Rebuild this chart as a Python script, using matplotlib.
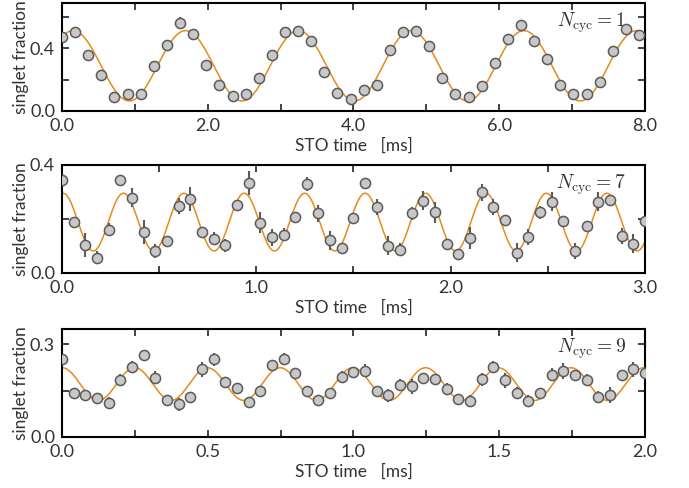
import numpy as np
import matplotlib.pyplot as plt

plt.rcParams['font.family'] = ['Lato', 'DejaVu Sans']
plt.rcParams['mathtext.fontset'] = 'cm'
plt.rcParams['font.size'] = 12.5
plt.rcParams['text.color'] = '#333333'
plt.rcParams['axes.labelcolor'] = '#333333'
plt.rcParams['xtick.color'] = '#333333'
plt.rcParams['ytick.color'] = '#333333'

# N_cyc = 1
t1 = np.arange(45) * 0.18
s1 = [0.47, 0.503, 0.357, 0.229, 0.086, 0.105, 0.105, 0.289, 0.421, 0.56,
      0.492, 0.293, 0.163, 0.096, 0.109, 0.208, 0.359, 0.506, 0.513, 0.449,
      0.25, 0.111, 0.075, 0.13, 0.165, 0.391, 0.502, 0.511, 0.417, 0.21,
      0.107, 0.088, 0.158, 0.308, 0.46, 0.547, 0.449, 0.331, 0.167, 0.109,
      0.109, 0.184, 0.383, 0.526, 0.487]
e1 = [0.02, 0.035, 0.02, 0.02, 0.02, 0.02, 0.02, 0.02, 0.02, 0.04,
      0.025, 0.02, 0.02, 0.02, 0.02, 0.02, 0.02, 0.02, 0.025, 0.02,
      0.02, 0.02, 0.02, 0.02, 0.025, 0.02, 0.02, 0.02, 0.02, 0.02,
      0.02, 0.02, 0.02, 0.02, 0.025, 0.02, 0.02, 0.02, 0.02, 0.02,
      0.02, 0.02, 0.02, 0.02, 0.025]

# N_cyc = 7
t7 = np.arange(51) * 0.06
s7 = [0.343, 0.19, 0.102, 0.056, 0.16, 0.343, 0.279, 0.152, 0.08, 0.118,
      0.247, 0.275, 0.151, 0.127, 0.102, 0.252, 0.332, 0.186, 0.131, 0.142,
      0.208, 0.33, 0.22, 0.121, 0.092, 0.202, 0.333, 0.245, 0.10, 0.086,
      0.22, 0.268, 0.224, 0.105, 0.071, 0.13, 0.298, 0.244, 0.196, 0.074,
      0.133, 0.224, 0.264, 0.192, 0.08, 0.173, 0.264, 0.27, 0.137, 0.108,
      0.192]
e7 = [0.015, 0.015, 0.045, 0.025, 0.025, 0.015, 0.035, 0.045, 0.025, 0.015,
      0.03, 0.045, 0.015, 0.025, 0.025, 0.015, 0.045, 0.04, 0.03, 0.025,
      0.015, 0.025, 0.03, 0.035, 0.015, 0.015, 0.015, 0.03, 0.035, 0.025,
      0.025, 0.035, 0.04, 0.015, 0.015, 0.04, 0.03, 0.03, 0.02, 0.035,
      0.03, 0.025, 0.035, 0.015, 0.03, 0.015, 0.035, 0.015, 0.03, 0.035,
      0.015]

# N_cyc = 9
t9 = np.arange(51) * 0.04
s9 = [0.251, 0.141, 0.134, 0.127, 0.11, 0.184, 0.226, 0.264, 0.192, 0.118,
      0.105, 0.129, 0.219, 0.251, 0.177, 0.159, 0.112, 0.148, 0.233, 0.253,
      0.208, 0.148, 0.119, 0.143, 0.195, 0.21, 0.215, 0.15, 0.134, 0.167,
      0.164, 0.192, 0.188, 0.154, 0.121, 0.116, 0.186, 0.226, 0.183, 0.143,
      0.116, 0.141, 0.202, 0.213, 0.199, 0.184, 0.13, 0.135, 0.199, 0.219,
      0.208]
e9 = [0.015, 0.018, 0.015, 0.015, 0.02, 0.02, 0.02, 0.015, 0.02, 0.015,
      0.02, 0.015, 0.025, 0.02, 0.015, 0.015, 0.015, 0.015, 0.015, 0.02,
      0.015, 0.015, 0.015, 0.015, 0.018, 0.015, 0.02, 0.015, 0.02, 0.02,
      0.025, 0.015, 0.015, 0.02, 0.015, 0.02, 0.02, 0.02, 0.025, 0.02,
      0.02, 0.015, 0.02, 0.025, 0.015, 0.02, 0.02, 0.025, 0.015, 0.025,
      0.02]

# fitted cosine: offset, amplitude, period [ms], peak position [ms]
fit1 = (0.288, 0.225, 1.547, 0.15)
fit7 = (0.188, 0.107, 0.311, 0.005)
fit9 = (0.171, 0.053, 0.2495, 0.0)

panels = [
    (t1, s1, e1, fit1, 8.0, 0.69, [0, 2, 4, 6, 8], np.arange(0, 8.1, 1.0),
     [0.0, 0.4], [0.2, 0.6], 1),
    (t7, s7, e7, fit7, 3.0, 0.4, [0, 1, 2, 3], np.arange(0, 3.01, 0.5),
     [0.0, 0.4], [0.2], 7),
    (t9, s9, e9, fit9, 2.0, 0.35, [0, 0.5, 1.0, 1.5, 2.0], np.arange(0, 2.01, 0.25),
     [0.0, 0.3], [0.15], 9),
]

fig = plt.figure(figsize=(6.89, 4.88), dpi=100)
bottoms = [0.773, 0.441, 0.105]
height = 0.221

for (t, s, e, fit, xmax, ymax, xt, xminor, yt, yminor, n), b in zip(panels, bottoms):
    ax = fig.add_axes([0.09, b, 0.846, height])
    tt = np.linspace(0, xmax, 800)
    off, amp, per, t0 = fit
    ax.plot(tt, off + amp * np.cos(2 * np.pi * (tt - t0) / per),
            color='#e8891c', lw=1.1, zorder=2)
    ax.errorbar(t, s, yerr=e, fmt='o', ms=7.3, mfc='#c8c8c8', mec='#5a5a5a',
                mew=1.1, ecolor='#5a5a5a', elinewidth=1.5, capsize=0, zorder=3)
    ax.set_xlim(0, xmax)
    ax.set_ylim(0, ymax)
    ax.set_xticks(xminor, minor=True)
    ax.set_xticks(xt)
    ax.set_xticklabels(['%.1f' % v for v in xt])
    ax.set_yticks(yminor, minor=True)
    ax.set_yticks(yt)
    ax.set_yticklabels(['%.1f' % v for v in yt])
    ax.tick_params(which='both', direction='in', top=True, right=True,
                   length=5, width=1.3, labelsize=13, pad=5)
    for sp in ax.spines.values():
        sp.set_linewidth(1.5)
    ax.set_xlabel('STO time   [ms]', fontsize=12.5, labelpad=3)
    ax.set_ylabel('singlet fraction', fontsize=12.5, labelpad=1)
    ax.text(0.967, 0.93, r'$N_{\rm cyc} = %d$' % n, transform=ax.transAxes,
            ha='right', va='top', fontsize=14, color='#333333')

fig.savefig('out.png', dpi=100)
